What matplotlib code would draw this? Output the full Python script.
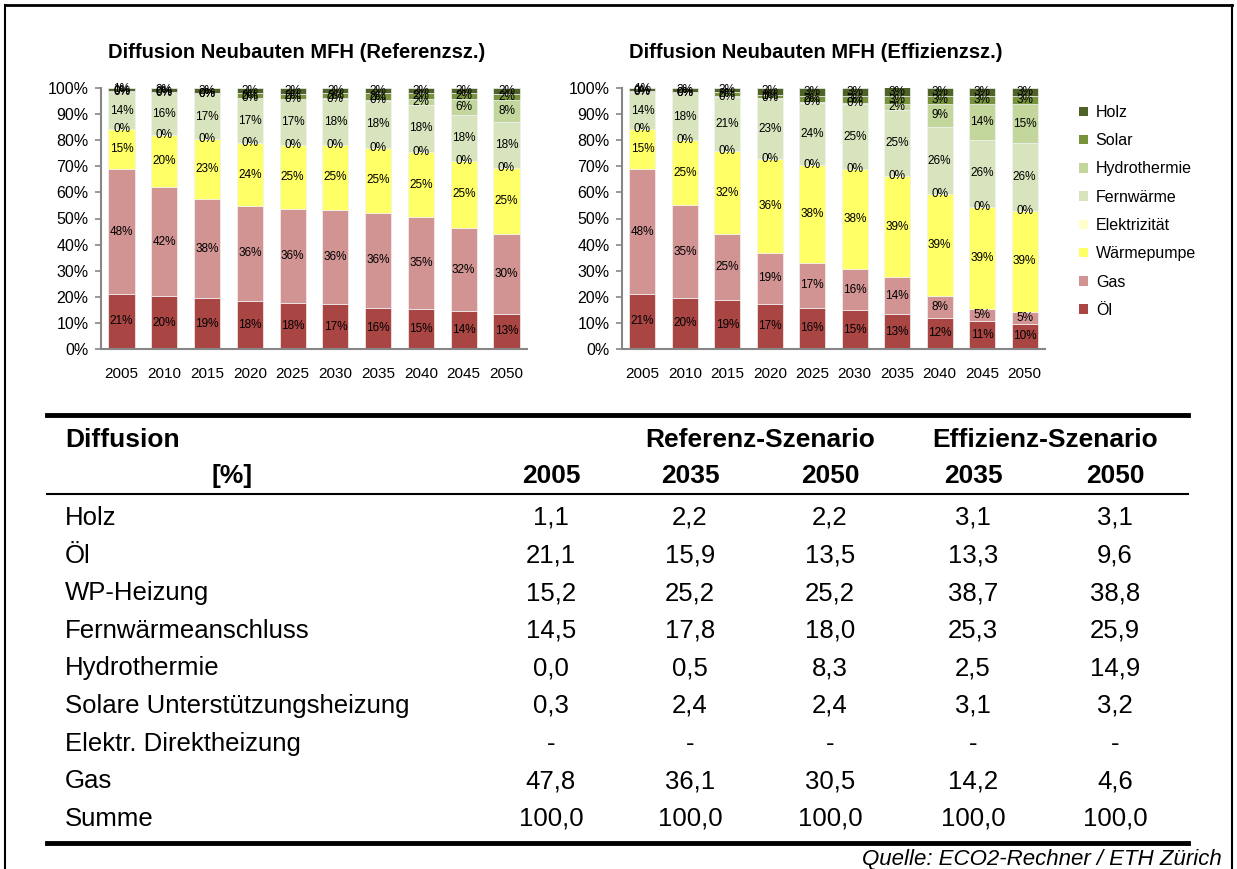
import matplotlib
matplotlib.use("Agg")
import matplotlib.pyplot as plt
from matplotlib.lines import Line2D
from matplotlib.patches import Patch
from matplotlib.ticker import PercentFormatter
import numpy as np

plt.rcParams['font.family'] = ['Liberation Sans', 'DejaVu Sans']

# --- Daten -------------------------------------------------------------
years = ['2005', '2010', '2015', '2020', '2025', '2030', '2035', '2040', '2045', '2050']
series = ['Öl', 'Gas', 'Wärmepumpe', 'Elektrizität', 'Fernwärme', 'Hydrothermie', 'Solar', 'Holz']
colors = ['#A94643', '#D29393', '#FFFF66', '#FFFFCC', '#D7E4BD', '#C3D69B', '#77933C', '#4F6228']

# Referenzszenario (Anteile in %)
ref_oel   = [21.1, 20.3, 19.4, 18.5, 17.6, 17.2, 15.9, 15.4, 14.4, 13.46]
ref_gas   = [47.8, 41.7, 38.1, 36.3, 36.1, 36.0, 36.1, 35.0, 32.1, 30.5]
ref_wp    = [15.2, 20.1, 23.0, 24.1, 24.6, 25.1, 25.2, 25.1, 25.4, 25.2]
ref_elek  = [0, 0, 0, 0, 0, 0, 0, 0, 0, 0]
ref_fern  = [14.5, 15.9, 17.1, 17.2, 17.3, 17.6, 17.8, 18.0, 17.9, 18.0]
ref_hydro = [0.0, 0.1, 0.0, 0.2, 0.2, 0.1, 0.5, 2.2, 5.8, 8.3]
ref_solar = [0.3, 0.4, 0.4, 1.6, 2.0, 2.0, 2.4, 2.2, 2.3, 2.4]
ref_holz  = [1.1, 1.6, 2.0, 2.1, 2.2, 2.0, 2.2, 2.1, 2.1, 2.2]

# Effizienzszenario (Anteile in %)
eff_oel   = [21.1, 19.7, 18.7, 17.4, 15.9, 14.8, 13.3, 11.9, 10.8, 9.6]
eff_gas   = [47.8, 35.3, 25.2, 19.3, 16.9, 15.8, 14.2, 8.3, 4.7, 4.6]
eff_wp    = [15.2, 25.0, 32.0, 36.1, 37.7, 38.3, 38.7, 39.1, 38.9, 38.8]
eff_elek  = [0, 0, 0, 0, 0, 0, 0, 0, 0, 0]
eff_fern  = [14.5, 18.0, 20.6, 23.1, 23.8, 25.0, 25.3, 25.7, 25.8, 25.9]
eff_hydro = [0.0, 0.1, 0.3, 0.3, 0.4, 0.5, 2.5, 9.0, 13.8, 14.9]
eff_solar = [0.3, 0.3, 1.6, 1.2, 2.4, 2.7, 3.1, 3.0, 3.0, 3.2]
eff_holz  = [1.1, 1.6, 1.6, 2.6, 2.9, 2.9, 3.1, 3.0, 3.0, 3.1]

# Tabelle
tab_rows = ['Holz', 'Öl', 'WP-Heizung', 'Fernwärmeanschluss', 'Hydrothermie',
            'Solare Unterstützungsheizung', 'Elektr. Direktheizung', 'Gas', 'Summe']
tab_cols = ['2005', '2035', '2050', '2035', '2050']
tab_2005     = ['1,1', '21,1', '15,2', '14,5', '0,0', '0,3', '-', '47,8', '100,0']
tab_ref_2035 = ['2,2', '15,9', '25,2', '17,8', '0,5', '2,4', '-', '36,1', '100,0']
tab_ref_2050 = ['2,2', '13,5', '25,2', '18,0', '8,3', '2,4', '-', '30,5', '100,0']
tab_eff_2035 = ['3,1', '13,3', '38,7', '25,3', '2,5', '3,1', '-', '14,2', '100,0']
tab_eff_2050 = ['3,1', '9,6', '38,8', '25,9', '14,9', '3,2', '-', '4,6', '100,0']

W, H = 1237, 869
fig = plt.figure(figsize=(W / 100, H / 100), dpi=100)


def fx(px):
    return px / W


def fy(py):
    return 1 - py / H


def stacked(ax, data, title):
    x = np.arange(len(years))
    bottom = np.zeros(len(years))
    for vals, col in zip(data, colors):
        vals = np.array(vals, dtype=float)
        ax.bar(x, vals / 100, width=0.61, bottom=bottom / 100, color=col,
               edgecolor='#F2F2F2', linewidth=0.5, zorder=2)
        for i, v in enumerate(vals):
            ax.text(x[i], (bottom[i] + v / 2) / 100, f"{v:.0f}%", ha='center', va='center',
                    fontsize=8.5, color='black', zorder=3)
        bottom += vals
    ax.set_xlim(-0.48, len(years) - 0.52)
    ax.set_ylim(0, 1)
    ax.set_yticks(np.arange(0, 1.01, 0.1))
    ax.yaxis.set_major_formatter(PercentFormatter(1.0, decimals=0))
    ax.set_xticks(x)
    ax.set_xticklabels(years)
    ax.tick_params(axis='x', length=0, pad=13, labelsize=11)
    ax.tick_params(axis='y', length=4, width=1.2, color='#868686', labelsize=11.5, pad=5)
    for s in ['top', 'right']:
        ax.spines[s].set_visible(False)
    for s in ['left', 'bottom']:
        ax.spines[s].set_color('#868686')
        ax.spines[s].set_linewidth(1.5)
    fig.text(ax.get_position().x0 + fx(7), fy(52), title, fontsize=14.5, fontweight='bold',
             ha='left', va='center')


ax1 = fig.add_axes([fx(101), fy(349), (527 - 101) / W, (349 - 88) / H])
stacked(ax1, [ref_oel, ref_gas, ref_wp, ref_elek, ref_fern, ref_hydro, ref_solar, ref_holz],
        'Diffusion Neubauten MFH (Referenzsz.)')
ax2 = fig.add_axes([fx(622), fy(349), (1045 - 622) / W, (349 - 88) / H])
stacked(ax2, [eff_oel, eff_gas, eff_wp, eff_elek, eff_fern, eff_hydro, eff_solar, eff_holz],
        'Diffusion Neubauten MFH (Effizienzsz.)')

handles = [Patch(facecolor=c, edgecolor='none') for c in colors][::-1]
fig.legend(handles, series[::-1], loc='upper left', bbox_to_anchor=(fx(1071), fy(97)),
           frameon=False, fontsize=11.5, labelspacing=0.83, handlelength=0.55,
           handleheight=0.55, handletextpad=0.5, borderpad=0)

# Rahmen
fig.add_artist(Line2D([fx(5), fx(5)], [0, fy(5)], color='black', lw=1.5))
fig.add_artist(Line2D([fx(1232), fx(1232)], [0, fy(5)], color='black', lw=1.5))
fig.add_artist(Line2D([fx(5), fx(1232)], [fy(5), fy(5)], color='black', lw=2))

# Tabelle
fig.add_artist(Line2D([fx(47), fx(1188)], [fy(415), fy(415)], color='black', lw=3.5))
fig.add_artist(Line2D([fx(47), fx(1188)], [fy(494), fy(494)], color='black', lw=1.5))
fig.add_artist(Line2D([fx(47), fx(1188)], [fy(843), fy(843)], color='black', lw=3.5))

col_x = [551, 690, 830, 973, 1115]
hfs = 19
fig.text(fx(65), fy(440), 'Diffusion', fontsize=hfs, fontweight='bold', ha='left', va='center')
fig.text(fx(760), fy(440), 'Referenz-Szenario', fontsize=hfs, fontweight='bold', ha='center', va='center')
fig.text(fx(1045), fy(440), 'Effizienz-Szenario', fontsize=hfs, fontweight='bold', ha='center', va='center')
fig.text(fx(232), fy(476), '[%]', fontsize=hfs, fontweight='bold', ha='center', va='center')
for cx, lab in zip(col_x, tab_cols):
    fig.text(fx(cx), fy(476), lab, fontsize=hfs, fontweight='bold', ha='center', va='center')

row_y0, row_dy = 518, 37.6
columns = [tab_2005, tab_ref_2035, tab_ref_2050, tab_eff_2035, tab_eff_2050]
for r, name in enumerate(tab_rows):
    yy = fy(row_y0 + r * row_dy)
    fig.text(fx(65), yy, name, fontsize=18.5, ha='left', va='center')
    for cx, col in zip(col_x, columns):
        fig.text(fx(cx), yy, col[r], fontsize=18.5, ha='center', va='center')

fig.text(fx(1222), fy(860), 'Quelle: ECO2-Rechner / ETH Zürich', fontsize=16, style='italic',
         ha='right', va='center')

fig.savefig('out.png', dpi=100)
